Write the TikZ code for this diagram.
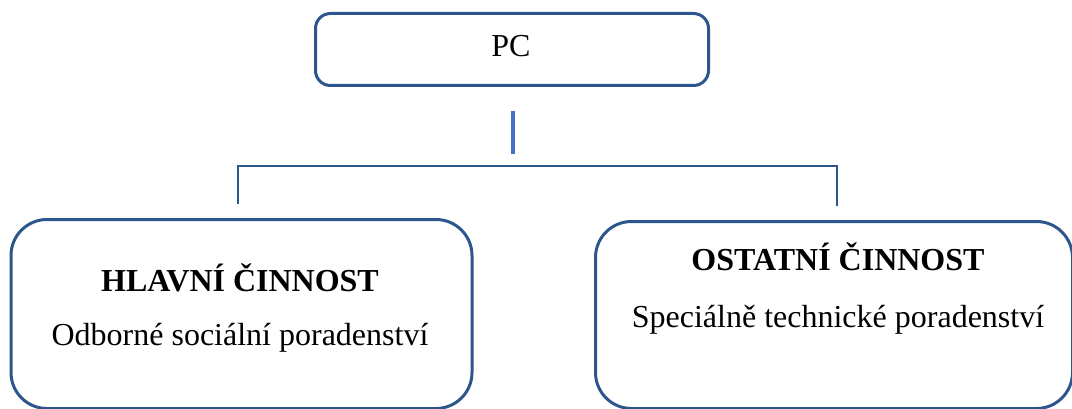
\documentclass[tikz,border=0pt]{standalone}
\usepackage{fontspec}
\setmainfont{Liberation Serif}
\definecolor{boxblue}{RGB}{44,86,140}
\definecolor{stubblue}{RGB}{68,114,196}
\tikzset{orgbox/.style={draw=boxblue,line width=3pt,rounded corners=36pt,anchor=north west,inner sep=0pt}}
\tikzset{orgline/.style={draw=boxblue,line width=1.6pt}}
\tikzset{orgtext/.style={anchor=base,inner sep=0pt,font=\fontsize{32}{38}\selectfont}}

\begin{document}
\begin{tikzpicture}[x=1pt,y=1pt]
    \useasboundingbox (0,0) rectangle (1072,408);

    \node [orgbox,rounded corners=15pt,minimum width=393pt,minimum height=72pt] (pc) at (314,396) {};
    \node [orgbox,minimum width=461pt,minimum height=189pt] (main) at (9.5,190) {};
    \node [orgbox,minimum width=477pt,minimum height=187pt] (other) at (594,188) {};

    \node [orgtext] (pctext) at (511,351) {PC};
    \node [orgtext] (maintitle) at (240,117) {\textbf{HLAVNÍ ČINNOST}};
    \node [orgtext] (maindesc) at (240,63) {Odborné sociální poradenství};
    \node [orgtext] (othertitle) at (838,138) {\textbf{OSTATNÍ ČINNOST}};
    \node [orgtext] (otherdesc) at (838,81) {Speciálně technické poradenství};

    \coordinate (busM) at (513,242);
    \coordinate (busL) at (238,242);
    \coordinate (busR) at (837,242);

    \draw [stubblue,line width=3.5pt] ([yshift=-24pt]pc.south -| busM) -- ([yshift=12pt]busM);
    \draw [orgline] ([xshift=-1pt]busL) -- ([xshift=1pt]busR);
    \draw [orgline] (busL) -- ([yshift=14pt]main.north -| busL);
    \draw [orgline] (busR) -- ([yshift=14pt]other.north -| busR);
  \end{tikzpicture}
\end{document}
